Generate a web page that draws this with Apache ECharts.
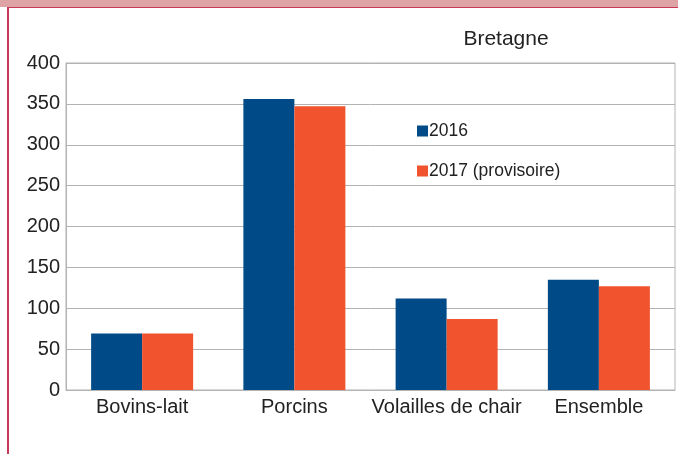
<!DOCTYPE html>
<html>
<head>
<meta charset="utf-8">
<script src="https://cdn.jsdelivr.net/npm/echarts@6/dist/echarts.min.js"></script>
<style>
  html, body { margin: 0; padding: 0; background: #fff; }
  #chart { width: 678px; height: 454px; }
</style>
</head>
<body>
<div id="chart"></div>
<script>
// categories and values
const categories = ['Bovins-lait', 'Porcins', 'Volailles de chair', 'Ensemble']
const values2016 = [69, 356, 112, 135]
const values2017 = [69, 347, 87, 127]
const yTicks = { min: 0, max: 400, step: 50 }

const chart = echarts.init(document.getElementById('chart'))
const textColor = '#222'
const gridColor = '#b3b3b3'

const option = {
    animation: false,
    color: ['#004b87', '#f0532d'],
    title: {
        text: 'Bretagne',
        left: 501,
        top: 24,
        textAlign: 'center',
        textStyle: { fontFamily: 'Liberation Sans', fontWeight: 'normal', fontSize: 21, color: textColor }
    },
    legend: {
        orient: 'vertical',
        left: 412,
        top: 117,
        itemWidth: 11,
        itemHeight: 11,
        itemGap: 22,
        icon: 'rect',
        textStyle: { fontFamily: 'Liberation Sans', fontSize: 17.5, color: textColor, padding: [0, 0, 0, -4] }
    },
    grid: {
        left: 66,
        right: 3,
        top: 63,
        bottom: 64,
        show: true,
        borderColor: gridColor,
        borderWidth: 1
    },
    xAxis: {
        type: 'category',
        data: categories,
        axisLine: { lineStyle: { color: gridColor } },
        axisTick: { show: false },
        axisLabel: { interval: 0, color: textColor, fontFamily: 'Liberation Sans', fontSize: 20, margin: 7 }
    },
    yAxis: {
        type: 'value',
        min: yTicks.min,
        max: yTicks.max,
        interval: yTicks.step,
        axisLine: { show: true, lineStyle: { color: gridColor } },
        axisTick: { show: false },
        splitLine: { lineStyle: { color: gridColor } },
        axisLabel: { color: textColor, fontFamily: 'Liberation Sans', fontSize: 20, margin: 6 }
    },
    series: [
        {
            name: '2016',
            type: 'bar',
            data: values2016,
            barGap: '0%',
            barCategoryGap: '33%'
        },
        {
            name: '2017 (provisoire)',
            type: 'bar',
            data: values2017
        }
    ],
    // page frame: pink band on top and crimson left edge
    graphic: [
        { type: 'rect', shape: { x: 0, y: 0, width: 678, height: 7 }, style: { fill: '#dda3a5' }, silent: true },
        { type: 'rect', shape: { x: 8, y: 7, width: 670, height: 1 }, style: { fill: '#c8385a' }, silent: true },
        { type: 'rect', shape: { x: 7, y: 7, width: 2, height: 447 }, style: { fill: '#c8385a' }, silent: true }
    ]
}

chart.setOption(option)
</script>
</body>
</html>
